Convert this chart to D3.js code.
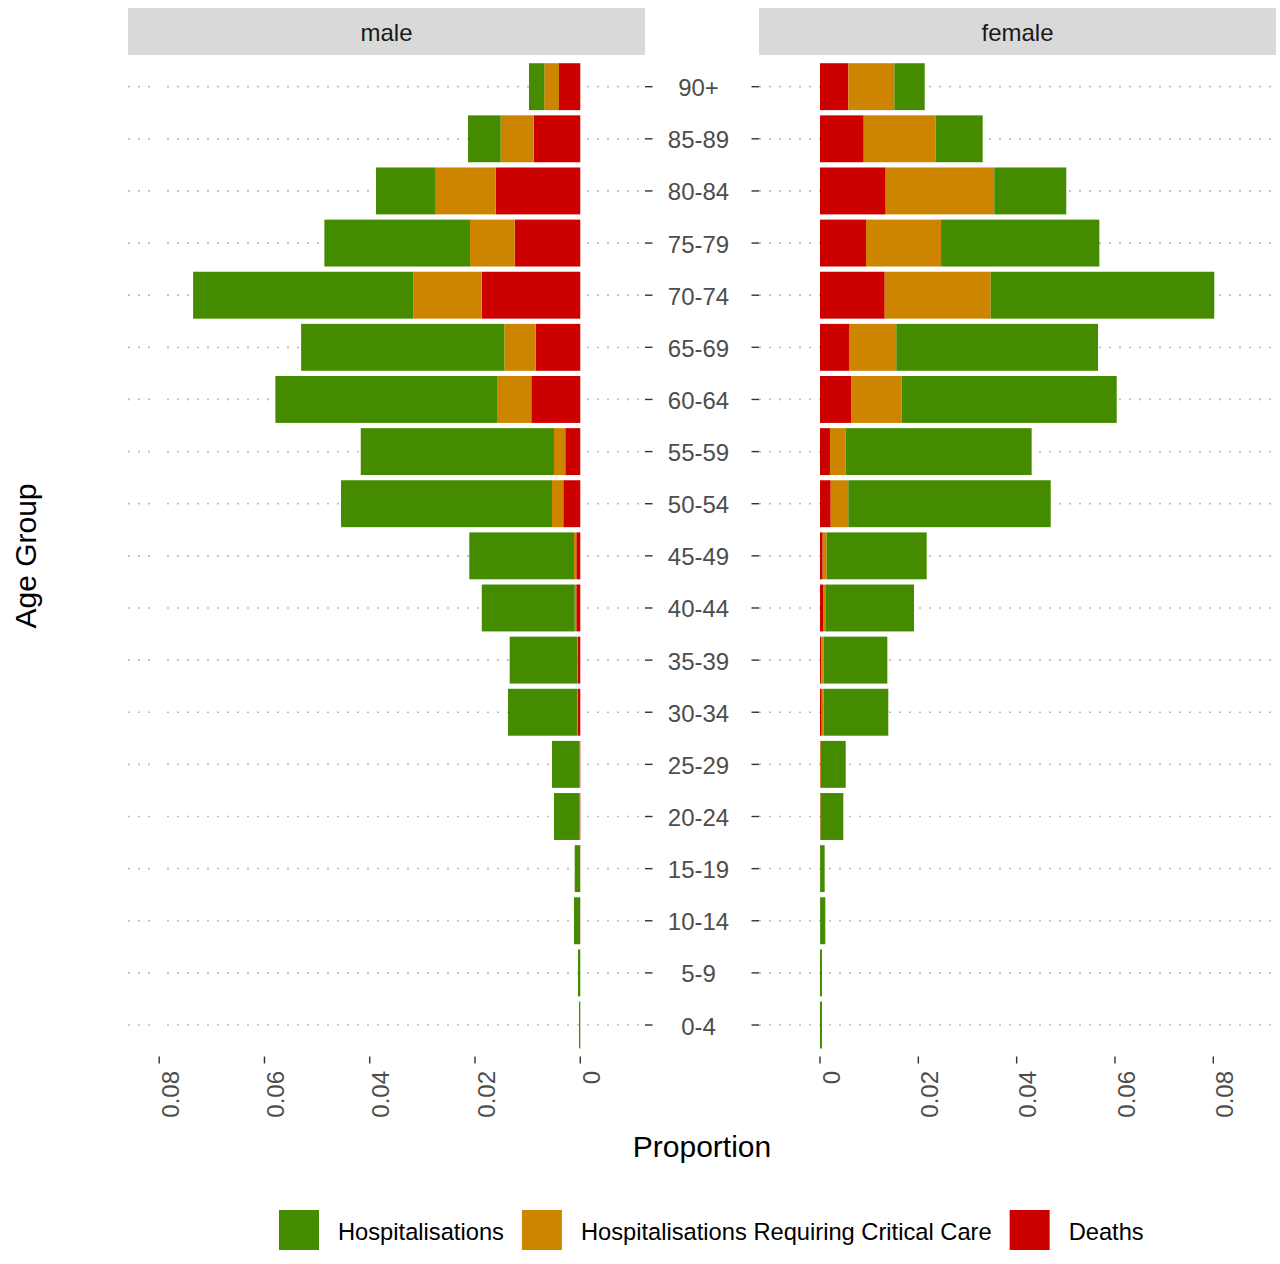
<!DOCTYPE html>
<html><head><meta charset="utf-8">
<script src="https://cdn.jsdelivr.net/npm/d3@7"></script>
<style>body{margin:0;background:#fff} text{font-family:"Liberation Sans", Arial, Helvetica, sans-serif}</style>
</head><body><svg id="c" width="1280" height="1264"></svg>
<script>
// ---- data ----
const ageGroups = ["90+","85-89","80-84","75-79","70-74","65-69","60-64","55-59","50-54","45-49","40-44","35-39","30-34","25-29","20-24","15-19","10-14","5-9","0-4"];

const maleDeaths   = [0.00405,0.00885,0.01607,0.01246,0.01873,0.00847,0.00931,0.00285,0.00323,0.00076,0.00076,0.00044,0.00050,0.00010,0.00008,0.00002,0.00002,0,0];
const maleCritical = [0.00279,0.00627,0.01140,0.00849,0.01299,0.00596,0.00651,0.00215,0.00215,0.00044,0.00030,0.00013,0.00013,0.00005,0.00004,0,0,0,0];
const maleHosp     = [0.00291,0.00621,0.01134,0.02767,0.04184,0.03861,0.04211,0.03671,0.04008,0.01989,0.01766,0.01284,0.01310,0.00522,0.00488,0.00104,0.00118,0.00044,0.00025];

const femaleDeaths   = [0.00576,0.00889,0.01336,0.00936,0.01316,0.00590,0.00631,0.00203,0.00218,0.00055,0.00061,0.00027,0.00035,0.00010,0.00008,0.00002,0.00002,0,0];
const femaleCritical = [0.00936,0.01464,0.02209,0.01526,0.02156,0.00962,0.01031,0.00319,0.00358,0.00081,0.00061,0.00049,0.00040,0.00010,0.00006,0,0,0,0];
const femaleHosp     = [0.00618,0.00956,0.01464,0.03220,0.04548,0.04103,0.04373,0.03783,0.04117,0.02034,0.01790,0.01294,0.01314,0.00503,0.00460,0.00093,0.00106,0.00040,0.00040];

const tickValues = [0, 0.02, 0.04, 0.06, 0.08];
const tickLabels = ["0", "0.02", "0.04", "0.06", "0.08"];
const seriesKeys = ["hosp", "critical", "deaths"];
const seriesNames = ["Hospitalisations", "Hospitalisations Requiring Critical Care", "Deaths"];
const seriesColors = ["#458B00", "#CD8500", "#CD0000"];

// ---- drawing ----
const svg = d3.select("#c");
svg.append("rect").attr("width", 1280).attr("height", 1264).attr("fill", "#fff");

const colorOf = d3.scaleOrdinal().domain(seriesKeys).range(seriesColors);
const y = d3.scaleBand().domain(ageGroups).range([55.4, 1056.3]).paddingInner(0.1).paddingOuter(0.15);

const panels = [
  {name: "male", x0: 128, x1: 645, range: [580.3, 159.2], deaths: maleDeaths, critical: maleCritical, hosp: maleHosp,
   grid: [[128, 153], [167, 645]], tick: [645, 652.5]},
  {name: "female", x0: 759, x1: 1276, range: [820, 1213.3], deaths: femaleDeaths, critical: femaleCritical, hosp: femaleHosp,
   grid: [[759, 1276]], tick: [751.5, 759]}
];

panels.forEach(p => {
  const x = d3.scaleLinear().domain([0, 0.08]).range(p.range);
  const g = svg.append("g");

  // strip
  g.append("rect").attr("x", p.x0).attr("y", 8).attr("width", p.x1 - p.x0).attr("height", 47).attr("fill", "#d9d9d9");
  g.append("text").attr("x", (p.x0 + p.x1) / 2).attr("y", 41).attr("text-anchor", "middle")
    .attr("font-size", 24).attr("fill", "#1a1a1a").text(p.name);

  // dotted horizontal gridlines and y ticks
  ageGroups.forEach(a => {
    const cy = y(a) + y.bandwidth() / 2;
    p.grid.forEach(seg => {
      g.append("line").attr("x1", seg[0]).attr("x2", seg[1]).attr("y1", cy).attr("y2", cy)
        .attr("stroke", "#bdbdbd").attr("stroke-width", 1.7).attr("stroke-dasharray", "2,8");
    });
    g.append("line").attr("x1", p.tick[0]).attr("x2", p.tick[1]).attr("y1", cy).attr("y2", cy)
      .attr("stroke", "#333").attr("stroke-width", 1.4);
  });

  // stacked bars: deaths innermost, then critical care, then hospitalisations
  const rows = ageGroups.map((a, i) => ({age: a, deaths: p.deaths[i], critical: p.critical[i], hosp: p.hosp[i]}));
  const stacked = d3.stack().keys(["deaths", "critical", "hosp"])(rows);
  stacked.forEach(s => {
    g.append("g").attr("fill", colorOf(s.key)).selectAll("rect").data(s).join("rect")
      .attr("x", d => Math.min(x(d[0]), x(d[1])))
      .attr("width", d => Math.abs(x(d[1]) - x(d[0])))
      .attr("y", d => y(d.data.age))
      .attr("height", y.bandwidth());
  });

  // x axis ticks and labels
  tickValues.forEach((v, i) => {
    g.append("line").attr("x1", x(v)).attr("x2", x(v)).attr("y1", 1056.5).attr("y2", 1063.5)
      .attr("stroke", "#333").attr("stroke-width", 1.4);
    g.append("text").attr("transform", `translate(${x(v)},1071) rotate(-90)`)
      .attr("text-anchor", "end").attr("dy", "0.82em").attr("font-size", 24).attr("fill", "#4d4d4d")
      .text(tickLabels[i]);
  });
});

// age labels in the middle
ageGroups.forEach(a => {
  svg.append("text").attr("x", 698.5).attr("y", y(a) + y.bandwidth() / 2 + 9.5)
    .attr("text-anchor", "middle").attr("font-size", 24).attr("fill", "#4d4d4d").text(a);
});

// axis titles
svg.append("text").attr("x", 702).attr("y", 1157).attr("text-anchor", "middle")
  .attr("font-size", 30).attr("fill", "#000").text("Proportion");
svg.append("text").attr("transform", "translate(36,556) rotate(-90)").attr("text-anchor", "middle")
  .attr("font-size", 30).attr("fill", "#000").text("Age Group");

// legend
let lx = 279;
seriesKeys.forEach((k, i) => {
  svg.append("rect").attr("x", lx).attr("y", 1210).attr("width", 40).attr("height", 40).attr("fill", colorOf(k));
  const t = svg.append("text").attr("x", lx + 59).attr("y", 1240).attr("font-size", 23.7).attr("fill", "#000").text(seriesNames[i]);
  lx = lx + 59 + t.node().getComputedTextLength() + 18;
});
</script>
</body></html>
